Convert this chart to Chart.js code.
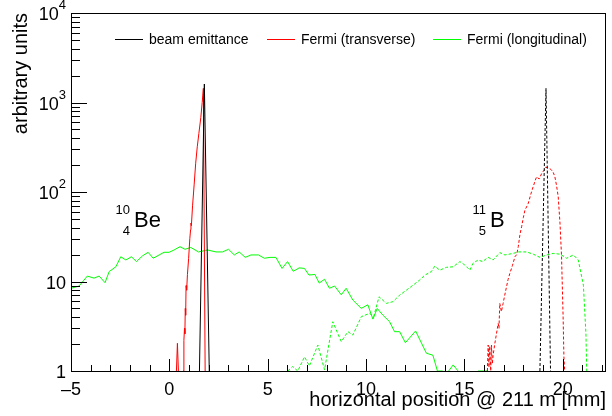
<!DOCTYPE html>
<html>
<head>
<meta charset="utf-8">
<script src="https://cdn.jsdelivr.net/npm/chart.js@4.4.1/dist/chart.umd.min.js"></script>
<style>
  html, body { margin: 0; padding: 0; background: #fff; }
</style>
</head>
<body>
<canvas id="plot" width="612" height="416"></canvas>
<script>
// beam emittance (black): 10Be peak solid, 11B peak dashed
let emitBeX = [1.53, 1.78, 2.03];
let emitBeY = [1, 1610, 1];
let emitBX = [18.84, 19.15, 19.38];
let emitBY = [1, 1440, 1];

// Fermi transverse (red)
let transBeX = [0.36, 0.41, 0.46, 0.58, 0.70, 0.74, 0.77, 0.79, 0.81, 0.83, 0.85, 0.88, 0.92, 0.98,
  1.04, 1.08, 1.10, 1.12, 1.18, 1.26, 1.34, 1.42, 1.50, 1.60, 1.67, 1.73, 1.82];
let transBeY = [1, 2.04, 1, null, 1, 2.2, 3.0, 2.6, 5.0, 4.2, 9.0, 8.0, 12, 18,
  30, 38, 45, 42, 70, 120, 210, 320, 450, 680, 1000, 1440, 1];
let transBX = [16.17, 16.21, 16.25, 16.29, 16.34, 16.38, 16.42, 16.46, 16.55, 16.63, 16.72, 16.76, 16.80,
  16.88, 16.97, 17.05, 17.14, 17.22, 17.31, 17.44, 17.57, 17.66, 17.74, 17.82, 17.91, 18.00, 18.08,
  18.16, 18.25, 18.38, 18.50, 18.58, 18.67, 18.80, 18.93, 19.05, 19.14, 19.26, 19.35, 19.43, 19.52,
  19.60, 19.68, 19.77, 19.86, 19.94, 20.02, 20.06, 20.10];
let transBY = [1, 1.95, 1.1, 1.9, 1, 1.95, 1.2, 1.5, 2.04, 2.6, 3.4, 3.0, 5.7,
  4.6, 5.7, 7.0, 8.7, 10.5, 12.3, 15, 18.9, 20, 24.5, 33, 41, 52, 63,
  68, 75, 95, 115, 130, 148, 140, 161, 175, 190, 184, 182, 176, 165,
  148, 120, 89, 45, 19, 4, 1.44, 1];

// Fermi longitudinal (green)
let longBeX = [-5, -4.59, -4.17, -3.83, -3.57, -3.27, -3.06, -2.72, -2.47, -2.21, -1.93, -1.67, -1.37,
  -1.08, -0.82, -0.52, -0.27, -0.01, 0.24, 0.54, 0.80, 1.09, 1.48, 1.94, 2.37, 2.70, 3.01, 3.30,
  3.55, 3.86, 4.15, 4.53, 4.83, 5.12, 5.42, 5.73, 6.01, 6.30, 6.60, 6.87, 7.10, 7.40, 7.62, 7.89,
  8.14, 8.40, 8.74, 8.99, 9.33, 9.76, 10.09, 10.35, 10.57, 10.86, 11.20, 11.45, 11.71, 12.00,
  12.52, 13.07, 13.40, 13.63, 13.90, 14.05, 14.20, 14.43, 14.68, 15.20, 15.70, 16.20];
let longBeY = [8.4, 8.9, 11.5, 10.9, 11.5, 9.7, 12.9, 14.6, 18.9, 17.4, 18.9, 16.7, 19.3,
  21.2, 18.2, 19.8, 21.2, 21.2, 22.5, 24.5, 22.9, 24, 21.4, 22.5, 21.4, 21.4, 22.9, 19.8,
  21.4, 18.6, 19.8, 19.8, 18.2, 18.6, 18.6, 14, 16.7, 13, 14.2, 14, 11.8, 12, 9.6, 10.6,
  8.4, 8.9, 7.1, 8.4, 6.2, 5.0, 5.5, 3.8, 5.0, 4.2, 3.55, 2.75, 2.75, 2.07,
  2.8, 1.58, 1.5, 1, 1, null, 1, 1.17, 1, null, 1, 1];
let longBX = [6.02, 6.27, 6.53, 6.87, 7.12, 7.55, 7.89, 8.31, 8.74, 9.08, 9.33, 9.76, 10.18, 10.39,
  10.66, 11.03, 11.37, 11.71, 12.05, 12.39, 12.73, 12.99, 13.32, 13.49, 13.75, 14.09, 14.43, 14.77,
  15.02, 15.28, 15.44, 15.70, 15.92, 16.21, 16.46, 16.80, 17.06, 17.48, 17.74, 18.16, 18.50, 18.84,
  19.18, 19.52, 19.86, 20.20, 20.54, 20.79, 21.05, 21.18, 21.22];
let longBY = [1, 1.12, 1, 1.44, 1.14, 1.95, 1.03, 3.55, 2.13, 2.75, 2.52, 4.05, 4.4, 4.05,
  6.75, 5.7, 5.95, 7.05, 8.0, 9.1, 10.4, 11.8, 12.9, 14.8, 13.4, 14.4, 14.6, 16.7,
  15.3, 13.4, 16, 17.4, 16.7, 18.6, 17.4, 21, 19.8, 20.6, 21.4, 21.4, 20.2, 18.6,
  19.8, 20.6, 20.2, 18.2, 19.8, 17.4, 9.1, 2.6, 1];

let seriesNames = ['beam emittance', 'Fermi (transverse)', 'Fermi (longitudinal)'];
let seriesColors = ['#000000', '#ff0000', '#00ff00'];

let xTicks = [-5, 0, 5, 10, 15, 20];
let xTickLabels = ['\u20135', '0', '5', '10', '15', '20'];
let yTicks = [1, 10, 100, 1000, 10000];
let yTickLabels = [['1', ''], ['10', ''], ['10', '2'], ['10', '3'], ['10', '4']];

const FONT = '"Liberation Sans", Arial, Helvetica, sans-serif';

function pts(xs, ys) {
  return xs.map((x, i) => ({x: x, y: ys[i]}));
}

function series(k, xs, ys, dashed) {
  return {
    label: seriesNames[k],
    data: pts(xs, ys),
    borderColor: seriesColors[k],
    borderWidth: 1,
    borderDash: dashed ? [3, 2] : [],
    pointRadius: 0,
    tension: 0,
    fill: false,
    spanGaps: false,
  };
}

// frame, inward ticks, y labels with exponents, legend and isotope labels
const decorations = {
  id: 'decorations',
  afterDatasetsDraw(chart) {
    const {ctx, chartArea: a, scales} = chart;
    const xs = scales.x, ys = scales.y;
    ctx.save();
    ctx.strokeStyle = '#000';
    ctx.lineWidth = 1;
    ctx.setLineDash([]);
    ctx.strokeRect(a.left + 0.5, a.top + 0.5, a.right - a.left - 1, a.bottom - a.top);

    ctx.beginPath();
    for (let v = -5; v <= 22; v++) {
      const px = Math.round(xs.getPixelForValue(v)) + 0.5;
      const len = v % 5 === 0 ? 12 : 6;
      ctx.moveTo(px, a.bottom);
      ctx.lineTo(px, a.bottom - len);
    }
    for (let d = 1; d <= 10000; d *= 10) {
      let py = Math.round(ys.getPixelForValue(d)) + 0.5;
      ctx.moveTo(a.left, py);
      ctx.lineTo(a.left + 16, py);
      if (d === 10000) break;
      for (let m = 2; m <= 9; m++) {
        py = Math.round(ys.getPixelForValue(d * m)) + 0.5;
        ctx.moveTo(a.left, py);
        ctx.lineTo(a.left + 9, py);
      }
    }
    ctx.stroke();

    ctx.fillStyle = '#000';
    ctx.textBaseline = 'alphabetic';

    // y tick labels: mantissa plus raised exponent, right edge at x = 65
    yTicks.forEach((v, i) => {
      const py = ys.getPixelForValue(v);
      const [base, exp] = yTickLabels[i];
      ctx.font = '13px ' + FONT;
      const ew = exp ? ctx.measureText(exp).width : 0;
      if (exp) {
        ctx.textAlign = 'right';
        ctx.fillText(exp, 66, py - 4);
      }
      ctx.font = '18px ' + FONT;
      ctx.textAlign = 'right';
      ctx.fillText(base, 66 - ew, py + 7);
    });
    ctx.textAlign = 'left';

    // legend
    const legendX = [115, 267, 433];
    ctx.font = '14px ' + FONT;
    seriesNames.forEach((name, i) => {
      const lx = legendX[i];
      ctx.strokeStyle = seriesColors[i];
      ctx.beginPath();
      ctx.moveTo(lx, 39.5);
      ctx.lineTo(lx + 28, 39.5);
      ctx.stroke();
      ctx.fillText(name, lx + 34, 44);
    });

    // isotope labels
    function isotope(x, mass, charge, sym) {
      ctx.font = '13px ' + FONT;
      ctx.fillText(mass, x, 213.5);
      const w = ctx.measureText(mass).width;
      const cw = ctx.measureText(charge).width;
      ctx.fillText(charge, x + w - cw, 234.5);
      ctx.font = '22px ' + FONT;
      ctx.fillText(sym, x + w + 4, 227);
    }
    isotope(115.5, '10', '4', 'Be');
    isotope(472.5, '11', '5', 'B');
    ctx.restore();
  }
};

new Chart(document.getElementById('plot'), {
  type: 'line',
  data: {
    datasets: [
      series(0, emitBeX, emitBeY, false),
      series(0, emitBX, emitBY, true),
      series(1, transBeX, transBeY, false),
      series(1, transBX, transBY, true),
      series(2, longBeX, longBeY, false),
      series(2, longBX, longBY, true),
    ],
  },
  options: {
    responsive: false,
    animation: false,
    layout: {padding: {top: 13, right: 6, left: 0, bottom: 0}},
    plugins: {legend: {display: false}, tooltip: {enabled: false}},
    scales: {
      x: {
        type: 'linear',
        min: -5,
        max: 22.2,
        afterBuildTicks: s => { s.ticks = xTicks.map(v => ({value: v})); },
        afterFit: s => { s.height = 45; },
        grid: {display: false, drawTicks: false},
        border: {display: false},
        ticks: {
          color: '#000',
          font: {family: FONT, size: 18},
          padding: 8,
          maxRotation: 0,
          autoSkip: false,
          callback: v => xTickLabels[xTicks.indexOf(v)],
        },
        title: {
          display: true,
          text: 'horizontal position @ 211 m [mm]',
          align: 'end',
          color: '#000',
          font: {family: FONT, size: 20},
          padding: {top: 0, bottom: 4},
        },
      },
      y: {
        type: 'logarithmic',
        min: 1,
        max: 10000,
        afterBuildTicks: s => { s.ticks = yTicks.map(v => ({value: v, major: true})); },
        afterFit: s => { s.width = 71; },
        grid: {display: false, drawTicks: false},
        border: {display: false},
        ticks: {
          display: false,
        },
        title: {
          display: true,
          text: 'arbitrary units',
          align: 'end',
          color: '#000',
          font: {family: FONT, size: 20},
          padding: {top: 9, bottom: 0},
        },
      },
    },
  },
  plugins: [decorations],
});
</script>
</body>
</html>
